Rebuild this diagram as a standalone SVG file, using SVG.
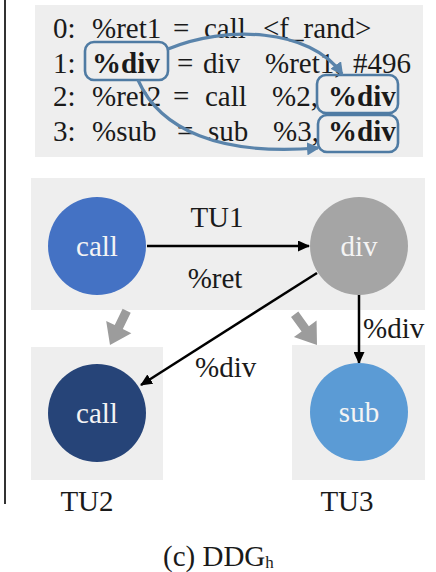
<svg xmlns="http://www.w3.org/2000/svg" width="436" height="572" viewBox="0 0 436 572">
<defs>
<style>
.t{font-family:"Liberation Serif","Times New Roman",serif;font-size:29px;fill:#1a1a1a}
.b{font-weight:bold}
.w{font-family:"Liberation Serif","Times New Roman",serif;font-size:29px;fill:#f4f4f4;text-anchor:middle}
.bg{fill:#eeeeee}
.hl{fill:none;stroke:#4f7ba3;stroke-width:2.6}
.cv{fill:none;stroke:#5a84ab;stroke-width:3.2}
.ed{stroke:#000;stroke-width:2.5;fill:none}
.ga{fill:#9c9c9c}
</style>
<marker id="ah" markerWidth="12" markerHeight="11" refX="11" refY="5.5" orient="auto" markerUnits="userSpaceOnUse" viewBox="0 0 12 11">
<path d="M0,0 L12,5.5 L0,11 Z" fill="#000"/>
</marker>
<marker id="bh" markerWidth="13" markerHeight="13" refX="11" refY="6.5" orient="auto" markerUnits="userSpaceOnUse" viewBox="0 0 13 13">
<path d="M0,0 L13,6.5 L0,13 Z" fill="#5a84ab"/>
</marker>
</defs>
<rect width="436" height="572" fill="#ffffff"/>
<line x1="5" y1="0" x2="5" y2="504" stroke="#333" stroke-width="2"/>

<g id="code">
<rect class="bg" x="35" y="5" width="388" height="152" fill="#f0f0f0"/>
<text class="t" y="38"><tspan x="53">0:</tspan><tspan x="92">%ret1</tspan><tspan x="173">=</tspan><tspan x="204">call</tspan><tspan x="263">&lt;f_rand&gt;</tspan></text>
<text class="t" y="73"><tspan x="53">1:</tspan><tspan x="92" class="b">%div</tspan><tspan x="177">=</tspan><tspan x="203">div</tspan><tspan x="265">%ret1,</tspan><tspan x="353">#496</tspan></text>
<text class="t" y="106"><tspan x="53">2:</tspan><tspan x="92">%ret2</tspan><tspan x="173">=</tspan><tspan x="205">call</tspan><tspan x="272">%2,</tspan><tspan x="328" class="b">%div</tspan></text>
<text class="t" y="141"><tspan x="53">3:</tspan><tspan x="92">%sub</tspan><tspan x="177">=</tspan><tspan x="208">sub</tspan><tspan x="273">%3,</tspan><tspan x="328" class="b">%div</tspan></text>
<rect class="hl" x="85" y="42" width="83" height="38" rx="9"/>
<rect class="hl" x="317" y="75" width="81" height="38" rx="9"/>
<rect class="hl" x="318" y="115" width="80" height="37" rx="9"/>
<path class="cv" d="M168,49 C225,25 310,28 342,74" marker-end="url(#bh)"/>
<path class="cv" d="M138,80 C160,130 220,156 318,148" marker-end="url(#bh)"/>
</g>

<g id="TU1">
<rect class="bg" x="31" y="178" width="394" height="132"/>
<text class="t" x="217" y="227" text-anchor="middle">TU1</text>
</g>
<g id="TU2">
<rect class="bg" x="31" y="347" width="132" height="133"/>
<text class="t" x="87" y="511" text-anchor="middle">TU2</text>
</g>
<g id="TU3">
<rect class="bg" x="292" y="345" width="133" height="135"/>
<text class="t" x="347" y="511" text-anchor="middle">TU3</text>
</g>

<g id="connectors">
<line class="ed" x1="147" y1="246" x2="309" y2="246" marker-end="url(#ah)"/>
<line class="ed" x1="317" y1="273" x2="141" y2="385" marker-end="url(#ah)"/>
<line class="ed" x1="359" y1="294" x2="359" y2="363" marker-end="url(#ah)"/>
<polygon class="ga" transform="translate(110,345) rotate(26)" points="0,0 14,-20 4.5,-20 4.5,-38 -4.5,-38 -4.5,-20 -14,-20"/>
<polygon class="ga" transform="translate(317,345) rotate(-36)" points="0,0 14,-20 4.5,-20 4.5,-38 -4.5,-38 -4.5,-20 -14,-20"/>
<text class="t" x="215" y="288" text-anchor="middle">%ret</text>
<text class="t" x="363" y="338">%div</text>
<text class="t" x="195" y="377">%div</text>
</g>

<g id="n_call1">
<circle cx="97" cy="246" r="49" fill="#4472c4"/>
<text class="w" x="97" y="256">call</text>
</g>
<g id="n_div">
<circle cx="359" cy="246" r="49" fill="#a5a5a5"/>
<text class="w" x="359" y="256">div</text>
</g>
<g id="n_call2">
<circle cx="97" cy="413" r="49" fill="#264478"/>
<text class="w" x="97" y="423">call</text>
</g>
<g id="n_sub">
<circle cx="359" cy="412" r="49" fill="#5b9bd5"/>
<text class="w" x="359" y="422">sub</text>
</g>

<text class="t" x="163" y="566">(c) DDG<tspan font-size="17" dy="2">h</tspan></text>
</svg>
